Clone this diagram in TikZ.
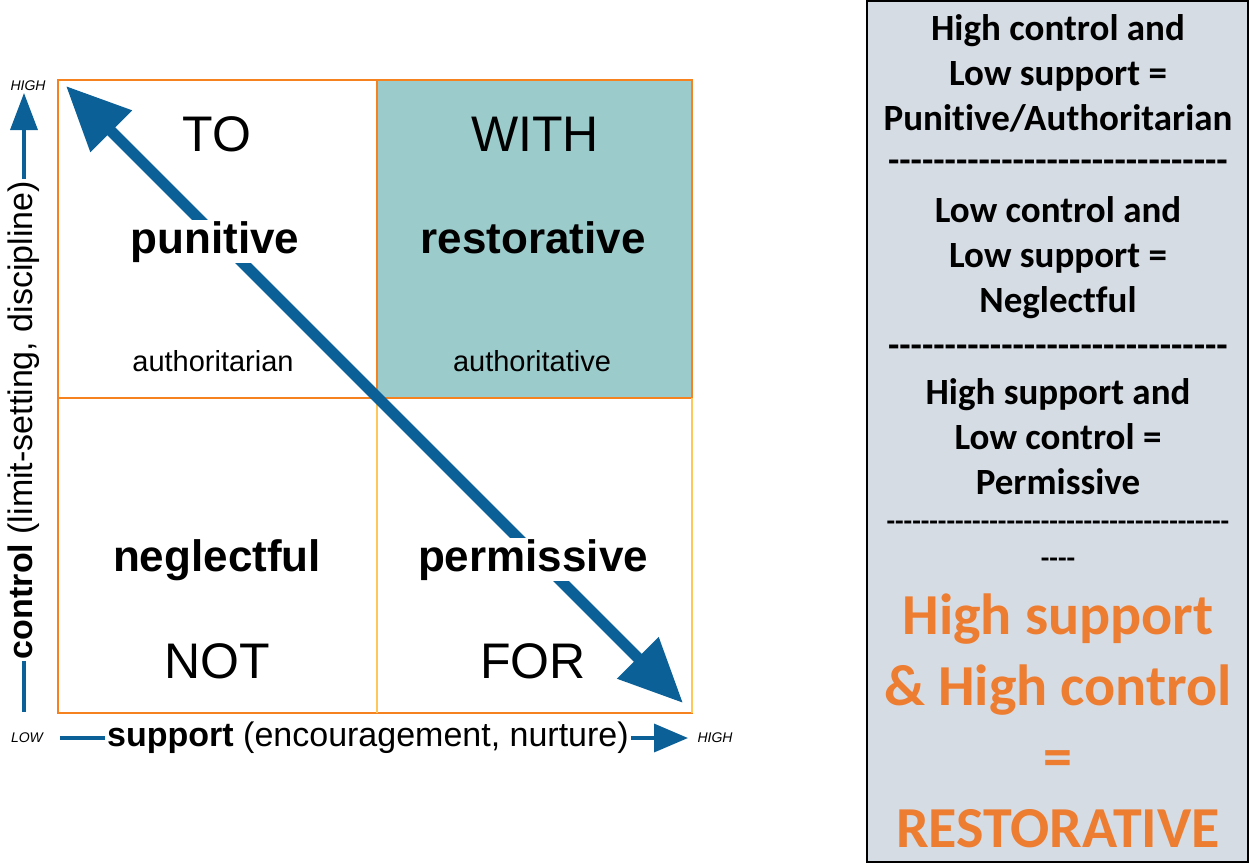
\documentclass[tikz,border=0pt]{standalone}
\usepackage{fontspec}
\setmainfont{Liberation Sans}
\newfontfamily\calibri[Ligatures=NoCommon]{Carlito}
\usetikzlibrary{arrows.meta,positioning}

\definecolor{gridorange}{HTML}{F5821F}
\definecolor{gridyellow}{HTML}{FFC65A}
\definecolor{withteal}{HTML}{9CCBCB}
\definecolor{arrowblue}{HTML}{0B6097}
\definecolor{panelfill}{HTML}{D6DCE4}
\definecolor{panelorange}{HTML}{ED7D31}

\begin{document}
\begin{tikzpicture}[x=1pt,y=1pt,
  bigword/.style={font=\fontsize{50}{60}\selectfont,anchor=base},
  kindword/.style={font=\bfseries\fontsize{44}{52}\selectfont,anchor=base,fill=white,inner sep=1pt},
  subword/.style={font=\fontsize{29}{35}\selectfont,anchor=base},
  axislabel/.style={font=\fontsize{34}{40}\selectfont,inner sep=2pt},
  endword/.style={font=\itshape\fontsize{14}{16}\selectfont},
  gridline/.style={draw=gridorange,line width=2.5pt},
  axisline/.style={draw=arrowblue,line width=3.5pt},
  bigarrow/.style={draw=arrowblue,line width=11pt,
    {Triangle[length=64pt,width=56pt]}-{Triangle[length=64pt,width=56pt]}},
  panelline/.style={font=\calibri\bfseries\fontsize{37}{45}\selectfont,
    text height=26pt,text depth=8pt,inner sep=0pt,node distance=45pt},
  paneldash/.style={font=\calibri\bfseries\fontsize{28}{34}\selectfont,
    text height=20pt,text depth=6pt,inner sep=0pt},
  panelbig/.style={font=\calibri\bfseries\fontsize{58}{70}\selectfont,text=panelorange,
    text height=41pt,text depth=13pt,inner sep=0pt,node distance=71pt}]
\useasboundingbox (0,0) rectangle (1250,-863);

% the four quadrants
\fill[withteal] (377,-80) rectangle (692,-398);
\draw[gridline] (58,-80) rectangle (692,-713);
\draw[gridline] (58,-398) -- (692,-398);
\draw[gridline] (377,-80) -- (377,-398);
\draw[gridline,draw=gridyellow] (377,-398) -- (377,-713);
\draw[gridline,draw=gridyellow] (692,-398) -- (692,-713);

% diagonal
\coordinate (hi) at (66,-86);
\coordinate (lo) at (683,-703);
\draw[bigarrow] (hi) -- (lo);

\node[bigword] (to) at (217,-151) {TO};
\node[bigword] (with) at (535,-151) {WITH};
\node[kindword] (pun) at (215,-253) {punitive};
\node[kindword,fill=withteal] (rest) at (533,-253) {restorative};
\node[subword] (autn) at (213,-371) {authoritarian};
\node[subword] (autv) at (532,-371) {authoritative};
\node[kindword] (negl) at (217,-571) {neglectful};
\node[kindword] (perm) at (533,-571) {permissive};
\node[bigword] (not) at (217,-678) {NOT};
\node[bigword] (for) at (533,-678) {FOR};

% axes
\node[axislabel,rotate=90] (ctrl) at (24,-420) {\textbf{control} (limit-setting, discipline)};
\coordinate (chigh) at (24,-93);
\coordinate (clow) at (24,-712);
\draw[axisline,-{Triangle[length=37pt,width=27pt]}] (ctrl.east) -- (chigh);
\draw[axisline] (ctrl.west) -- (clow);
\node[endword] (hightop) at (28,-86) {HIGH};

\node[axislabel] (sup) at (368,-738) {\textbf{support} (encouragement, nurture)};
\coordinate (slow) at (60,-738);
\coordinate (shigh) at (688,-738);
\draw[axisline] (slow) -- (sup.west);
\draw[axisline,-{Triangle[length=34pt,width=28pt]}] (sup.east) -- (shigh);
\node[endword] (lowleft) at (27,-738) {LOW};
\node[endword] (highright) at (715,-738) {HIGH};

% summary panel
\draw[fill=panelfill,line width=2.5pt] (867,-1) rectangle (1248,-862);
\node[panelline] (c1) at (1058,-31) {High control and};
\node[panelline,below of=c1] (c2) {Low support =};
\node[panelline,below of=c2] (c3) {Punitive/Authoritarian};
\node[panelline] (d1) at (1058,-163) {------------------------------};
\node[panelline] (c4) at (1058,-213) {Low control and};
\node[panelline,below of=c4] (c5) {Low support =};
\node[panelline,below of=c5] (c6) {Neglectful};
\node[panelline] (d2) at (1058,-348) {------------------------------};
\node[panelline] (c7) at (1058,-395) {High support and};
\node[panelline,below of=c7] (c8) {Low control =};
\node[panelline,below of=c8] (c9) {Permissive};
\node[paneldash] (d3) at (1058,-523) {----------------------------------------};
\node[paneldash] (d4) at (1058,-560) {----};
\node[panelbig] (o1) at (1058,-620) {High support};
\node[panelbig,below of=o1] (o2) {\& High control};
\node[panelbig,below of=o2] (o3) {=};
\node[panelbig,below of=o3] (o4) {RESTORATIVE};
\end{tikzpicture}
\end{document}
